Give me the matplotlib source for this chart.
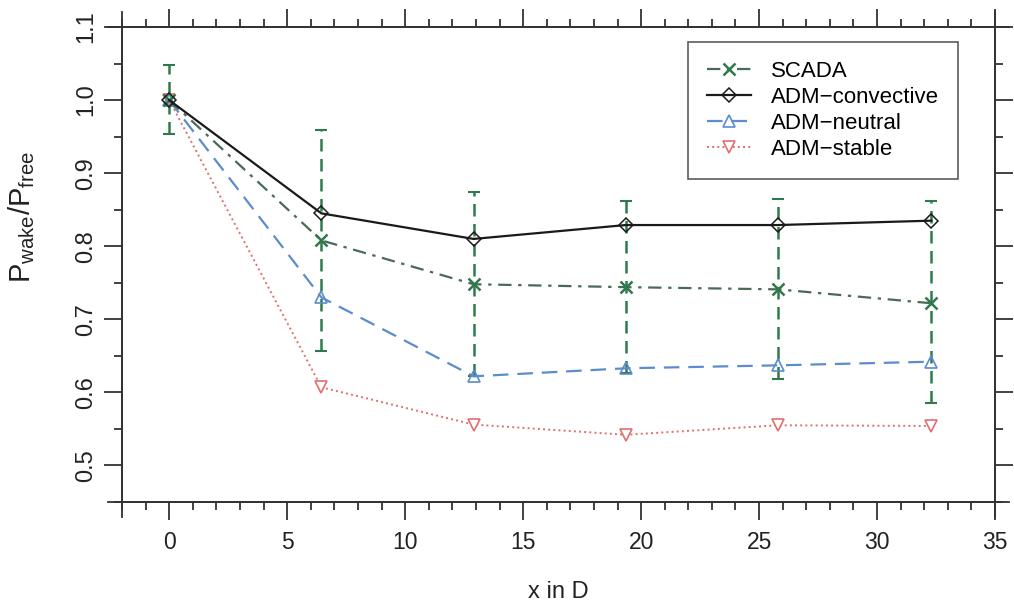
import numpy as np
import matplotlib
matplotlib.use("Agg")
import matplotlib.pyplot as plt
from matplotlib.ticker import MultipleLocator

plt.rcParams['font.family'] = ['Liberation Sans', 'DejaVu Sans']
plt.rcParams['mathtext.fontset'] = 'custom'
plt.rcParams['mathtext.rm'] = 'Liberation Sans'
plt.rcParams['mathtext.it'] = 'Liberation Sans'

# distance downstream in rotor diameters
x_d = [0, 6.45, 12.9, 19.35, 25.8, 32.3]

scada = [1.0, 0.808, 0.748, 0.744, 0.741, 0.722]
scada_hi = [1.048, 0.959, 0.874, 0.862, 0.864, 0.862]
scada_lo = [0.953, 0.656, 0.622, 0.627, 0.618, 0.585]

adm_convective = [1.0, 0.845, 0.810, 0.829, 0.829, 0.835]
adm_neutral = [1.0, 0.730, 0.622, 0.633, 0.637, 0.642]
adm_stable = [1.0, 0.607, 0.556, 0.542, 0.555, 0.554]

green = '#2f7a4c'
blue = '#5b8ccc'
red = '#e0706e'

fig = plt.figure(figsize=(10.14, 6.03), dpi=100)
ax = fig.add_axes([0.1203, 0.1675, 0.861, 0.7877])

sc = np.array(scada)
yerr = [sc - np.array(scada_lo), np.array(scada_hi) - sc]
eb = ax.errorbar(x_d, scada, yerr=yerr, fmt='none', ecolor=green,
                 elinewidth=1.8, capsize=4.5, capthick=1.5, zorder=2)
eb[2][0].set_linestyle((0, (5, 3)))

ax.plot(x_d, adm_stable, linestyle=':', color=red, lw=1.4, marker='v',
        ms=9, mfc='white', mec=red, mew=1.2, label='ADM\u2212stable', zorder=3)
ax.plot(x_d, adm_neutral, linestyle=(0, (7, 4)), color=blue, lw=1.6, marker='^',
        ms=9, mfc='none', mec=blue, mew=1.2, label='ADM\u2212neutral', zorder=3)
ax.plot(x_d, scada, linestyle=(0, (6, 3, 1.5, 3)), color='#4a6a58', lw=1.6, marker='x',
        ms=8, mec=green, mew=1.8, label='SCADA', zorder=4)
ax.plot(x_d, adm_convective, linestyle='-', color='#1a1a1a', lw=1.6, marker='D',
        ms=7, mfc='none', mec='#1a1a1a', mew=1.1, label='ADM\u2212convective', zorder=4)

ax.set_xlim(-2, 35)
ax.set_ylim(0.45, 1.1)
ax.xaxis.set_major_locator(MultipleLocator(5))
ax.xaxis.set_minor_locator(MultipleLocator(1))
ax.yaxis.set_major_locator(MultipleLocator(0.1))
ax.yaxis.set_minor_locator(MultipleLocator(0.05))
ax.tick_params(which='both', direction='out', top=True, right=True,
               color='#333333', width=1.3)
ax.tick_params(which='major', length=13)
ax.tick_params(which='minor', length=6)
ax.tick_params(axis='x', labelsize=16.5, pad=8, labelcolor='#222222')
ax.tick_params(axis='y', labelsize=17, pad=5, labelcolor='#222222')
ax.set_yticklabels([f'{v:.1f}' for v in ax.get_yticks()], rotation=90, va='center')

for s in ax.spines.values():
    s.set_linewidth(1.3)
    s.set_color('#333333')
# frame lines overshoot the box like the original
ex, ey = 14 / 873, 15 / 475
for yy in (0, 1):
    ax.plot([-ex, 1 + ex], [yy, yy], transform=ax.transAxes, clip_on=False,
            color='#333333', lw=1.3)
for xx in (0, 1):
    ax.plot([xx, xx], [-ey, 1 + ey], transform=ax.transAxes, clip_on=False,
            color='#333333', lw=1.3)

ax.set_xlabel('x in D', fontsize=17, labelpad=19, color='#222222')
ax.set_ylabel(r'$\mathrm{P_{wake}/P_{free}}$', fontsize=21, color='#222222')
ax.yaxis.set_label_coords(-0.097, 0.6)

h, l = ax.get_legend_handles_labels()
order = [2, 3, 1, 0]
leg = ax.legend([h[i] for i in order], [l[i] for i in order],
                loc='upper right', bbox_to_anchor=(0.9576, 0.968),
                borderaxespad=0, fontsize=16, frameon=True, fancybox=False,
                handlelength=2.0, labelspacing=0.22, borderpad=0.85,
                handletextpad=0.9)
leg.get_frame().set_edgecolor('#333333')
leg.get_frame().set_linewidth(1.2)

fig.savefig('out.png', dpi=100)
